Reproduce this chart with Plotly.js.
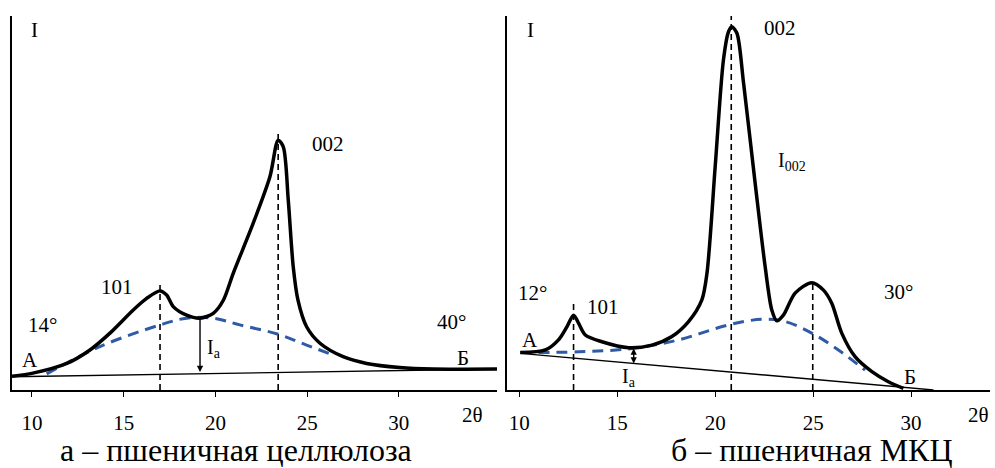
<!DOCTYPE html>
<html>
<head>
<meta charset="utf-8">
<script src="https://cdn.plot.ly/plotly-3.0.1.min.js"></script>
</head>
<body style="margin:0">
<div id="chart" style="width:995px;height:468px"></div>
<script>
// Panel а – пшеничная целлюлоза (2θ, intensity in arbitrary units 0..100)
const a_x = [8.91, 10.05, 11.9, 13.16, 14.25, 15.52, 16.25, 16.98, 17.34, 17.7, 18.43, 19.16, 19.88, 20.43, 20.97, 22.06, 22.97, 23.42, 23.7, 23.97, 24.24, 24.5, 24.97, 25.7, 26.96, 28.24, 30.05, 31.87, 35.35];
const a_y = [3.7, 4.5, 7.1, 10.7, 15.2, 21.4, 24.5, 26.5, 25.4, 22.3, 20.0, 19.2, 20.5, 24.0, 31.2, 44.6, 57.0, 66.8, 65.0, 50.8, 33.0, 24.0, 16.9, 12.5, 8.9, 7.1, 6.0, 5.6, 5.6];
const a_amorph_x = [10.8, 13.7, 16.98, 18.43, 19.88, 21.33, 23.42, 24.97, 26.4];
const a_amorph_y = [4.3, 11.6, 17.4, 19.2, 19.2, 17.4, 14.9, 12.0, 9.4];
const a_base_x = [8.91, 35.35];
const a_base_y = [3.56, 5.6];
const a_peak_x = [16.98, 23.42];
const a_peak_top = [28.1, 68.7];
const a_Ia = {x: 19.16, low: 4.8, high: 19.2};

// Panel б – пшеничная МКЦ
const b_x = [10.05, 11.33, 12.0, 12.43, 12.77, 13.03, 13.37, 14.22, 15.58, 16.77, 17.79, 18.64, 19.32, 19.58, 20.0, 20.42, 20.68, 20.85, 21.11, 21.45, 22.04, 22.55, 22.89, 23.15, 23.48, 24.08, 24.93, 25.53, 25.95, 26.46, 27.14, 28.0, 28.84, 29.61];
const b_y = [10.0, 10.7, 13.4, 16.9, 20.0, 17.8, 14.7, 12.9, 11.3, 12.0, 14.3, 18.3, 24.1, 31.2, 59.7, 88.2, 95.8, 97.1, 95.4, 82.0, 55.3, 33.0, 21.4, 18.5, 20.0, 25.9, 28.7, 26.7, 23.2, 15.2, 8.9, 4.9, 2.2, 0.45];
const b_amorph_x = [10.05, 13.03, 15.75, 18.13, 20.68, 22.38, 23.57, 24.93, 26.29, 27.65];
const b_amorph_y = [10.0, 10.2, 11.1, 13.4, 17.4, 18.9, 18.3, 15.2, 10.7, 5.3];
const b_base_x = [10.05, 31.14];
const b_base_y = [9.8, 0.0];
const b_peak_x = [12.77, 20.82, 24.98];
const b_peak_top = [23.0, 100.0, 28.9];
const b_Ia = {x: 15.84, low: 7.1, high: 11.5};

const tickVals = [10, 15, 20, 25, 30];
const tickText = ['10', '15', '20', '25', '30'];

const SERIF = 'Times';
const BLUE = '#2f5aa5';

function vlines(xs, tops, xa, ya) {
  const X = [], Y = [];
  xs.forEach((x, i) => { X.push(x, x, null); Y.push(0, tops[i], null); });
  return {x: X, y: Y, xaxis: xa, yaxis: ya, mode: 'lines', line: {color: '#000', width: 1.6, dash: '6px,4px'}, hoverinfo: 'skip'};
}

const traces = [
  {x: a_base_x, y: a_base_y, xaxis: 'x', yaxis: 'y', mode: 'lines', line: {color: '#000', width: 1.4}},
  vlines(a_peak_x, a_peak_top, 'x', 'y'),
  {x: a_amorph_x, y: a_amorph_y, xaxis: 'x', yaxis: 'y', mode: 'lines', line: {color: BLUE, width: 3, dash: '11px,7px', shape: 'spline', smoothing: 1}},
  {x: a_x, y: a_y, xaxis: 'x', yaxis: 'y', mode: 'lines', line: {color: '#000', width: 3.5, shape: 'spline', smoothing: 0.8}},

  {x: b_base_x, y: b_base_y, xaxis: 'x2', yaxis: 'y2', mode: 'lines', line: {color: '#000', width: 1.4}},
  vlines(b_peak_x, b_peak_top, 'x2', 'y2'),
  {x: b_amorph_x, y: b_amorph_y, xaxis: 'x2', yaxis: 'y2', mode: 'lines', line: {color: BLUE, width: 3, dash: '11px,7px', shape: 'spline', smoothing: 1}},
  {x: b_x, y: b_y, xaxis: 'x2', yaxis: 'y2', mode: 'lines', line: {color: '#000', width: 3.5, shape: 'spline', smoothing: 0.8}}
];

function xaxisCfg(range, domain, anchor) {
  return {
    domain: domain, range: range, anchor: anchor,
    showgrid: false, zeroline: false, showline: true, linecolor: '#000', linewidth: 1.6,
    ticks: 'outside', ticklen: 5, tickwidth: 1.4, tickcolor: '#000',
    tickvals: tickVals, ticktext: tickText, ticklabelstandoff: 8,
    tickfont: {family: SERIF, size: 21, color: '#000'}
  };
}
function yaxisCfg(anchor) {
  return {
    domain: [0.1667, 0.9658], range: [0, 100], anchor: anchor,
    showgrid: false, zeroline: false, showline: true, linecolor: '#000', linewidth: 1.6,
    showticklabels: false, ticks: ''
  };
}

function lbl(text, x, y, xr, yr, size) {
  return {text: text, x: x, y: y, xref: xr, yref: yr, showarrow: false,
    font: {family: SERIF, size: size || 21, color: '#000'}, xanchor: 'center', yanchor: 'middle'};
}

const annotations = [
  lbl('I', 10.16, 96.3, 'x', 'y'),
  lbl('002', 26.13, 65.8, 'x', 'y'),
  lbl('101', 14.63, 27.5, 'x', 'y'),
  lbl('14°', 10.6, 17.4, 'x', 'y'),
  lbl('40°', 32.89, 18.2, 'x', 'y'),
  lbl('А', 9.89, 8.0, 'x', 'y'),
  lbl('Б', 33.49, 8.6, 'x', 'y'),
  lbl('I<sub>a</sub>', 19.9, 11.2, 'x', 'y', 20),
  lbl('2θ', 34.03, 0.1132, 'x', 'paper'),

  lbl('I', 10.56, 96.3, 'x2', 'y2'),
  lbl('002', 23.32, 96.8, 'x2', 'y2'),
  lbl('I<sub>002</sub>', 23.93, 61, 'x2', 'y2', 20),
  lbl('12°', 10.66, 25.9, 'x2', 'y2'),
  lbl('101', 14.29, 22.2, 'x2', 'y2'),
  lbl('30°', 29.34, 26.2, 'x2', 'y2'),
  lbl('А', 10.56, 13.4, 'x2', 'y2'),
  lbl('Б', 29.95, 3.5, 'x2', 'y2'),
  lbl('I<sub>a</sub>', 15.6, 3.3, 'x2', 'y2', 20),
  lbl('2θ', 33.42, 0.1132, 'x2', 'paper'),

  lbl('а – пшеничная целлюлоза', 0.237, 0.038, 'paper', 'paper', 32),
  lbl('б – пшеничная МКЦ', 0.8156, 0.038, 'paper', 'paper', 32),

  {x: a_Ia.x, y: a_Ia.low, ax: a_Ia.x, ay: a_Ia.high, xref: 'x', yref: 'y', axref: 'x', ayref: 'y',
   text: '', showarrow: true, arrowhead: 2, arrowsize: 0.9, arrowwidth: 1.4, arrowcolor: '#000', standoff: 0},
  {x: b_Ia.x, y: b_Ia.low, ax: b_Ia.x, ay: b_Ia.high, xref: 'x2', yref: 'y2', axref: 'x2', ayref: 'y2',
   text: '', showarrow: true, arrowhead: 2, startarrowhead: 2, arrowside: 'end+start', arrowsize: 0.9, startarrowsize: 0.9, arrowwidth: 1.4, arrowcolor: '#000', standoff: 0, startstandoff: 0}
];

const layout = {
  width: 995, height: 468,
  margin: {l: 0, r: 0, t: 0, b: 0},
  font: {family: SERIF, color: '#000'},
  paper_bgcolor: '#fff', plot_bgcolor: 'rgba(0,0,0,0)',
  showlegend: false,
  xaxis: xaxisCfg([8.91, 35.35], [0.01206, 0.4995], 'y'),
  yaxis: yaxisCfg('x'),
  xaxis2: xaxisCfg([9.37, 34.03], [0.5095, 0.995], 'y2'),
  yaxis2: yaxisCfg('x2'),
  annotations: annotations
};

Plotly.newPlot('chart', traces, layout, {displayModeBar: false});
</script>
</body>
</html>
